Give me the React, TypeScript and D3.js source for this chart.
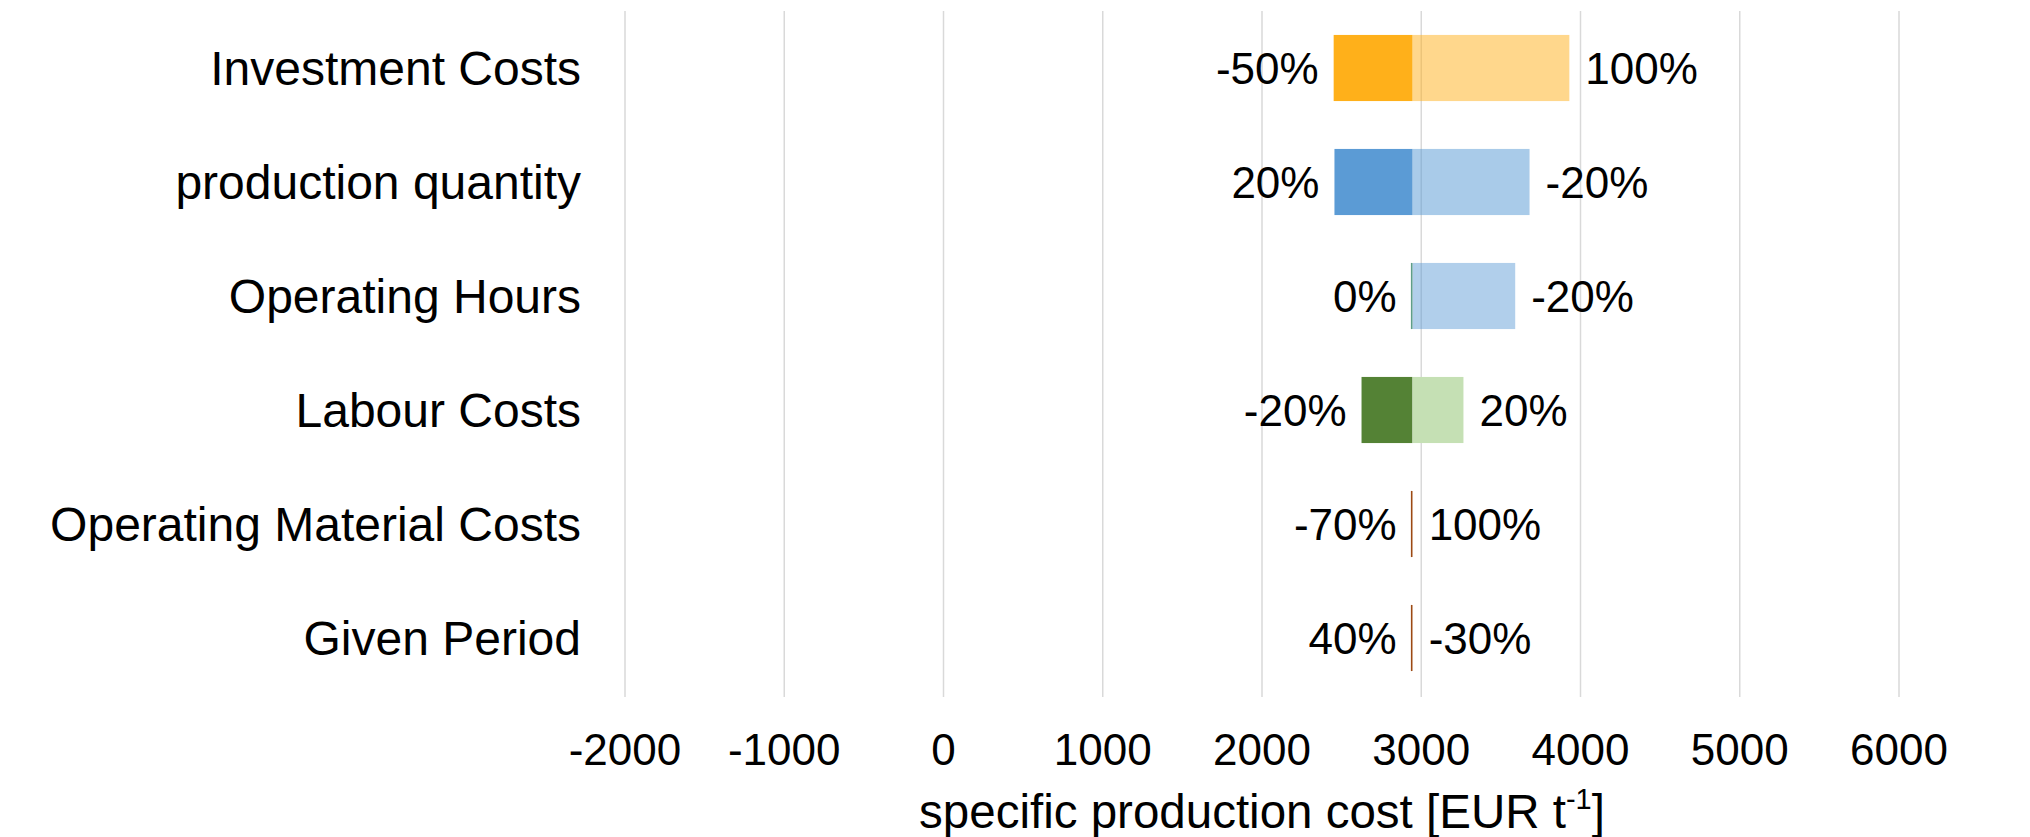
import React from "react";
import * as d3 from "d3";

const categories = [
  "Investment Costs",
  "production quantity",
  "Operating Hours",
  "Labour Costs",
  "Operating Material Costs",
  "Given Period",
];
const baseValue = 2945;
const lowValues = [2450, 2455, 2940, 2625, 2940, 2940];
const highValues = [3930, 3680, 3590, 3265, 2946, 2946];
const lowLabels = ["-50%", "20%", "0%", "-20%", "-70%", "40%"];
const highLabels = ["100%", "-20%", "-20%", "20%", "100%", "-30%"];
const xTicks = [-2000, -1000, 0, 1000, 2000, 3000, 4000, 5000, 6000];

const darkFill = ["#FFB01A", "#5B9BD5", "#5B9BD5", "#548235", "#9C4A13", "#9C4A13"];
const lightFill = ["#FFB01A", "#5B9BD5", "#5B9BD5", "#C5E0B4", "#9C4A13", "#9C4A13"];
const lightOpacity = [0.5, 0.52, 0.48, 1, 1, 1];
const lineColor = ["#FFB01A", "#5B9BD5", "#5E9E88", "#548235", "#9C4A13", "#9C4A13"];

const W = 2030;
const H = 837;
const FONT = "'Liberation Sans', Arial, sans-serif";

export default function App() {
  const x = d3.scaleLinear().domain([-2000, 6000]).range([625, 1899]);
  const y = d3
    .scaleBand<string>()
    .domain(categories)
    .range([11, 695])
    .paddingInner(0.42)
    .paddingOuter(0.21);
  const bh = y.bandwidth();
  const xb = x(baseValue);

  return (
    <svg
      width={W}
      height={H}
      style={{ position: "absolute", left: 0, top: 0, background: "#fff" }}
      fontFamily={FONT}
    >
      <rect x={0} y={0} width={W} height={H} fill="#fff" />
      {xTicks.map((t) => (
        <line
          key={"g" + t}
          x1={x(t)}
          x2={x(t)}
          y1={11}
          y2={697}
          stroke="#D9D9D9"
          strokeWidth={1.5}
        />
      ))}
      {categories.map((c, i) => {
        const y0 = y(c)!;
        const cy = y0 + bh / 2;
        const xl = x(lowValues[i]);
        const xh = x(highValues[i]);
        const darkW = xb - xl;
        const lightW = xh - xb;
        return (
          <g key={c}>
            {darkW >= 2 ? (
              <rect x={xl} y={y0} width={darkW} height={bh} fill={darkFill[i]} />
            ) : null}
            {lightW >= 2 ? (
              <rect
                x={xb}
                y={y0}
                width={lightW}
                height={bh}
                fill={lightFill[i]}
                fillOpacity={lightOpacity[i]}
              />
            ) : null}
            {darkW < 2 ? (
              <line
                x1={xl}
                x2={xl}
                y1={y0}
                y2={y0 + bh}
                stroke={lineColor[i]}
                strokeWidth={1.6}
              />
            ) : null}
            <text
              x={xl - 15}
              y={cy}
              dy="0.36em"
              textAnchor="end"
              fontSize={44}
              fill="#000"
            >
              {lowLabels[i]}
            </text>
            <text
              x={Math.max(xh, xl) + 16}
              y={cy}
              dy="0.36em"
              textAnchor="start"
              fontSize={44}
              fill="#000"
            >
              {highLabels[i]}
            </text>
            <text
              x={581}
              y={cy}
              dy="0.35em"
              textAnchor="end"
              fontSize={48}
              fill="#000"
            >
              {c}
            </text>
          </g>
        );
      })}
      {xTicks.map((t) => (
        <text
          key={"t" + t}
          x={x(t)}
          y={765}
          textAnchor="middle"
          fontSize={44}
          fill="#000"
        >
          {t}
        </text>
      ))}
      <text x={(x(-2000) + x(6000)) / 2} y={828} textAnchor="middle" fontSize={47.5} fill="#000">
        specific production cost [EUR t
        <tspan fontSize={29} dy={-19}>
          -1
        </tspan>
        <tspan dy={19}>]</tspan>
      </text>
    </svg>
  );
}
